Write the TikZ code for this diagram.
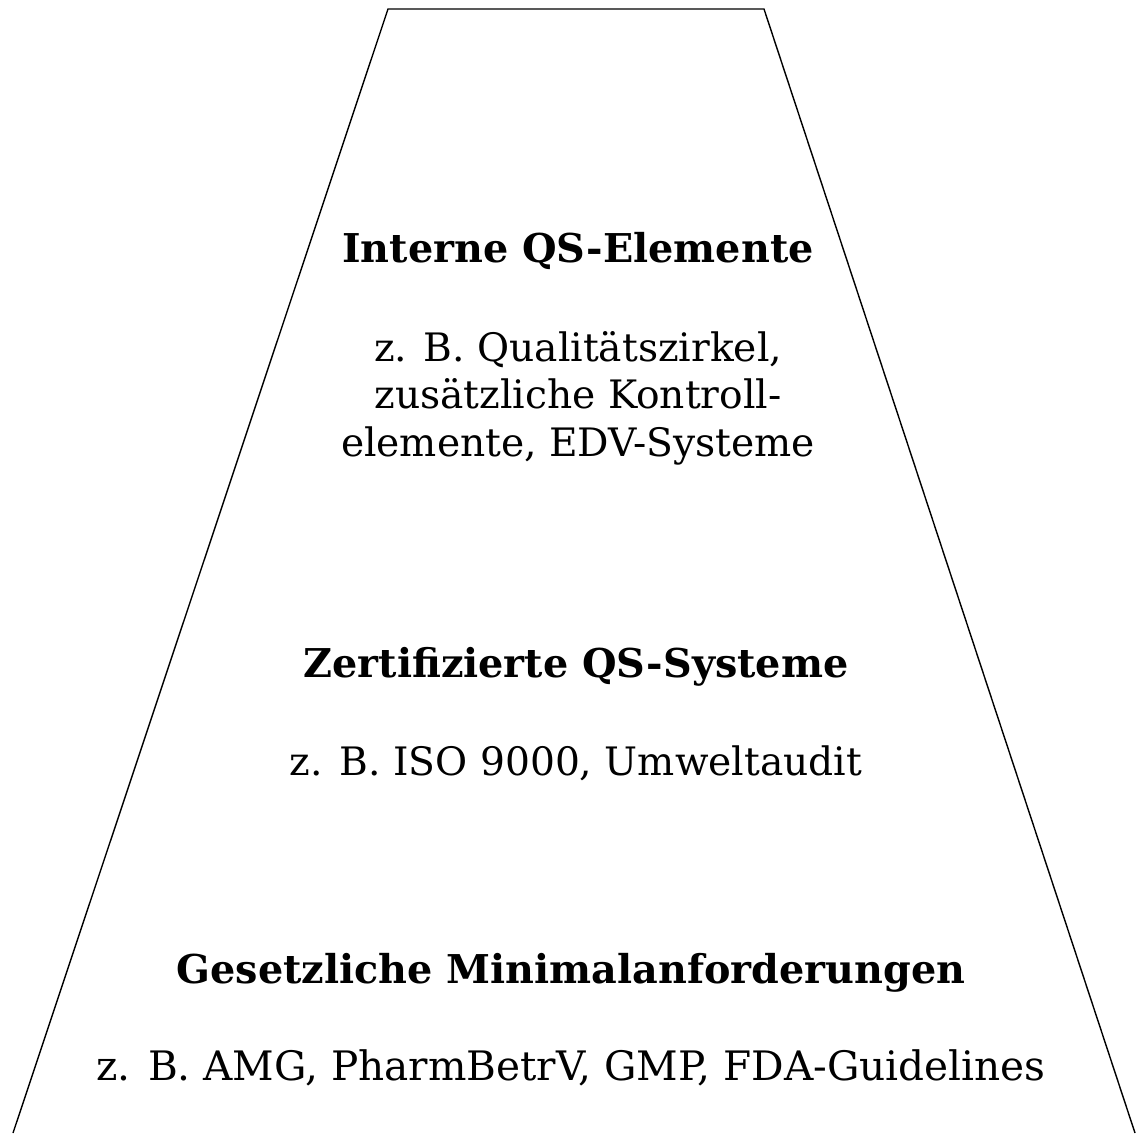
\documentclass[tikz,border=0pt]{standalone}
\usepackage{fontspec}
\setmainfont{DejaVu Serif}
\usepackage{tikz}
\usetikzlibrary{positioning}

\begin{document}
\begin{tikzpicture}[x=0.02cm, y=-0.02cm,
    every node/.style={inner sep=0pt, outer sep=0pt, anchor=base},
    titel/.style={font=\fontsize{22.6}{27.3}\selectfont\bfseries},
    beispiel/.style={font=\fontsize{22.3}{27.3}\selectfont, align=center}]
  \useasboundingbox (0,0) rectangle (1136,1133);
  % Trapez (unten offen)
  \coordinate (tl) at (388,9);
  \coordinate (tr) at (764,9);
  \coordinate (bl) at (13,1133);
  \coordinate (br) at (1135,1133);
  \draw[line width=0.8pt, line join=miter] (bl) -- (tl) -- (tr) -- (br);
  % obere Stufe
  \node[titel] (intern) at (578,262) {Interne QS-Elemente};
  \node[beispiel, anchor=north] (internbsp) at (578,331)
    {z. B. Qualitätszirkel,\\zusätzliche Kontroll-\\elemente, EDV-Systeme};
  % mittlere Stufe
  \node[titel] (zert) at (576,677) {Zertifizierte QS-Systeme};
  \node[beispiel] (zertbsp) at (576,775) {z. B. ISO 9000, Umweltaudit};
  % untere Stufe
  \node[titel] (gesetz) at (571,983) {Gesetzliche Minimalanforderungen};
  \node[beispiel, font=\fontsize{23.1}{27.3}\selectfont] (gesetzbsp) at (571,1080)
    {z. B. AMG, PharmBetrV, GMP, FDA-Guidelines};
\end{tikzpicture}
\end{document}
